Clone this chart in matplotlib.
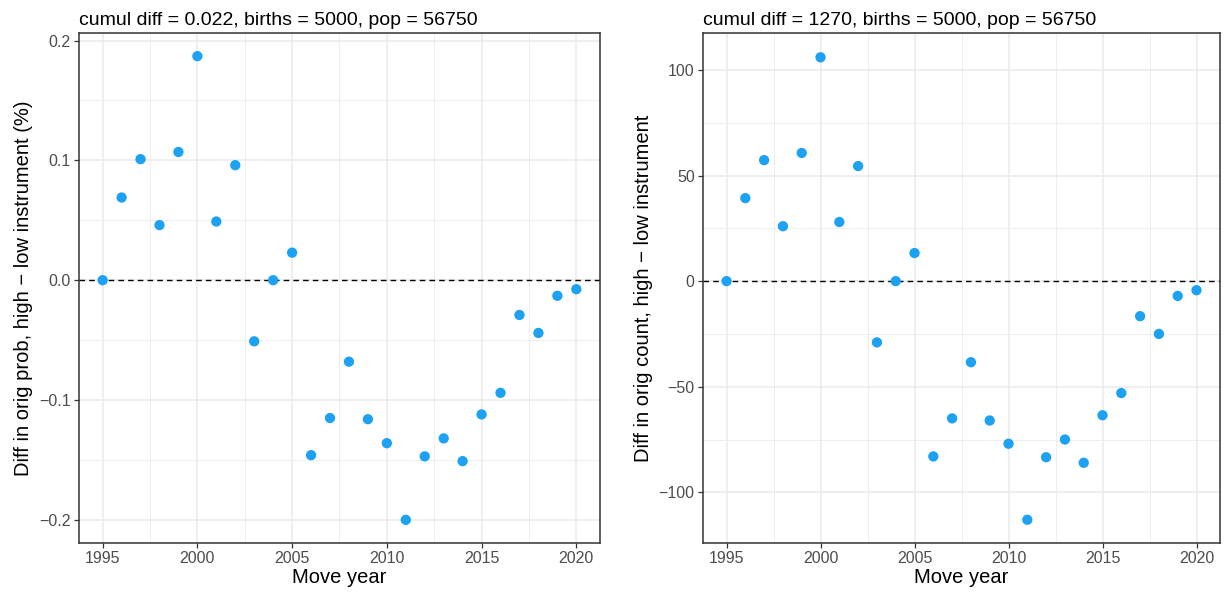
import matplotlib
matplotlib.use("Agg")
import matplotlib.pyplot as plt
from matplotlib.ticker import MultipleLocator

plt.rcParams["font.family"] = ["Liberation Sans", "DejaVu Sans"]

years = list(range(1995, 2021))
diff_prob = [0.0, 0.069, 0.101, 0.046, 0.107, 0.187, 0.049, 0.096, -0.051, 0.0,
             0.023, -0.146, -0.115, -0.068, -0.116, -0.136, -0.200, -0.147, -0.132,
             -0.151, -0.112, -0.094, -0.029, -0.044, -0.013, -0.0075]
diff_count = [0.0, 39.3, 57.3, 26.0, 60.7, 106.0, 28.0, 54.5, -29.0, 0.0,
              13.3, -83.0, -65.0, -38.4, -66.0, -77.0, -113.0, -83.4, -75.0,
              -86.0, -63.5, -53.0, -16.6, -25.0, -7.0, -4.3]

titles = ["cumul diff = 0.022, births = 5000, pop = 56750",
          "cumul diff = 1270, births = 5000, pop = 56750"]
ylabels = ["Diff in orig prob, high \u2212 low instrument (%)",
           "Diff in orig count, high \u2212 low instrument"]
xlabel = "Move year"

fig = plt.figure(figsize=(12.28, 5.98), dpi=100)
ax1 = fig.add_axes([0.0643, 0.092, 0.4243, 0.8528])
ax2 = fig.add_axes([0.5725, 0.092, 0.4210, 0.8528])

panels = [
    (ax1, diff_prob, 0.1, 0.05, (-0.2193, 0.2063)),
    (ax2, diff_count, 50, 25, (-124.0, 117.5)),
]

for i, (ax, vals, major, minor, ylim) in enumerate(panels):
    ax.set_axisbelow(True)
    ax.xaxis.set_major_locator(MultipleLocator(5))
    ax.xaxis.set_minor_locator(MultipleLocator(2.5))
    ax.yaxis.set_major_locator(MultipleLocator(major))
    ax.yaxis.set_minor_locator(MultipleLocator(minor))
    ax.grid(which="major", color="#EBEBEB", linewidth=1.1)
    ax.grid(which="minor", color="#EBEBEB", linewidth=0.6)
    ax.axhline(0, color="black", linestyle=(0, (4, 3)), linewidth=1.0)
    ax.scatter(years, vals, s=55, color="#1DA1F2", edgecolors="none", zorder=3)
    ax.set_xlim(1993.75, 2021.25)
    ax.set_ylim(*ylim)
    for sp in ax.spines.values():
        sp.set_color("#333333")
        sp.set_linewidth(1.1)
    ax.tick_params(which="major", length=3.5, color="#333333", labelsize=11.5,
                   labelcolor="#4D4D4D", width=0.9, pad=2.5)
    ax.tick_params(which="minor", length=0)
    if i == 0:
        ax.yaxis.set_major_formatter(plt.FuncFormatter(
            lambda v, p: ("%.1f" % v).replace("-", "\u2212") if abs(v) > 1e-9 else "0.0"))
    else:
        ax.yaxis.set_major_formatter(plt.FuncFormatter(
            lambda v, p: ("%d" % round(v)).replace("-", "\u2212")))
    ax.set_xlabel(xlabel, fontsize=14.5, labelpad=1)
    ax.set_ylabel(ylabels[i], fontsize=14.5, labelpad=4)
    ax.set_title(titles[i], fontsize=14, loc="left", pad=6)

fig.savefig("out.png", dpi=100)
